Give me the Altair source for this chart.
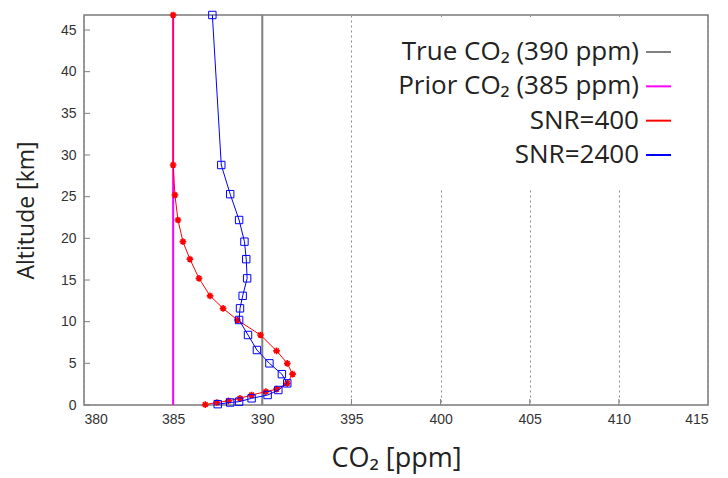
import altair as alt
import pandas as pd

# ---------------- data ----------------
x_ticks = [380, 385, 390, 395, 400, 405, 410, 415]
y_ticks = [0, 5, 10, 15, 20, 25, 30, 35, 40, 45]
x_domain = [380, 415]
y_domain = [0, 46.8]

true_co2 = 390
prior_co2 = 385

snr400_alt = [46.8, 28.8, 25.2, 22.2, 19.6, 17.5, 15.2, 13.1, 11.6, 10.2, 8.4, 6.5,
              5.0, 3.7, 2.6, 1.9, 1.6, 1.2, 0.8, 0.5, 0.3, 0.05]
snr400_co2 = [385.0, 385.0, 385.1, 385.27, 385.55, 385.94, 386.45, 387.07, 387.8, 388.6,
              389.9, 390.8, 391.4, 391.7, 391.4, 390.8, 390.2, 389.4, 388.75, 388.1, 387.45, 386.8]

snr2400_alt = [46.8, 28.8, 25.3, 22.2, 19.6, 17.5, 15.2, 13.1, 11.6, 10.2, 8.4, 6.6,
               5.0, 3.7, 2.6, 1.8, 1.2, 0.8, 0.4, 0.3, 0.1]
snr2400_co2 = [387.2, 387.7, 388.2, 388.7, 389.0, 389.1, 389.15, 388.9, 388.75, 388.7,
               389.2, 389.7, 390.4, 391.1, 391.4, 390.9, 390.3, 389.4, 388.7, 388.2, 387.5]

legend_labels = ["True CO₂ (390 ppm)", "Prior CO₂ (385 ppm)", "SNR=400", "SNR=2400"]
legend_colors = ["#808080", "#ff00ff", "#ff0000", "#0000ff"]

# ---------------- frames ----------------
red_df = pd.DataFrame({"co2": snr400_co2, "alt": snr400_alt, "idx": range(len(snr400_alt))})
blue_df = pd.DataFrame({"co2": snr2400_co2, "alt": snr2400_alt, "idx": range(len(snr2400_alt))})
ref_df = pd.DataFrame({"co2": [prior_co2, true_co2], "color": ["#ff00ff", "#808080"]})
leg_df = pd.DataFrame({"row": list(range(len(legend_labels))), "label": legend_labels,
                       "color": legend_colors})
ytick_df = pd.DataFrame({"v": y_ticks})
xtick_df = pd.DataFrame({"v": x_ticks[1:-1]})

W, H = 624, 390
TITLE_FONT = "Open Sans"
LABEL_FONT = "Liberation Sans"

xscale = alt.Scale(domain=x_domain, nice=False, zero=False)
yscale = alt.Scale(domain=y_domain, nice=False, zero=False)

x_axis = alt.Axis(values=x_ticks, grid=True, gridDash=[2, 3], gridColor="#8c8c8c", gridWidth=1,
                  ticks=False, domain=False, labelFont=LABEL_FONT, labelFontSize=14,
                  labelColor="#333333", labelPadding=7, title="CO₂ [ppm]",
                  titleFont=TITLE_FONT, titleFontSize=27, titleFontWeight="normal",
                  titleColor="#222222", titlePadding=19)
y_axis = alt.Axis(values=y_ticks, grid=False, ticks=False, domain=False,
                  labelFont=LABEL_FONT, labelFontSize=14, labelColor="#333333",
                  labelPadding=8, title="Altitude [km]", titleFont=TITLE_FONT,
                  titleFontSize=23, titleFontWeight="normal", titleColor="#222222",
                  titlePadding=22)

X = alt.X("co2:Q", scale=xscale, axis=x_axis)
Y = alt.Y("alt:Q", scale=yscale, axis=y_axis)

one = pd.DataFrame({"a": [0]})

legend_box = alt.Chart(one).mark_rect(color="white").encode(
    x=alt.value(306), x2=alt.value(622), y=alt.value(2), y2=alt.value(174))

yticks = alt.Chart(ytick_df).mark_rule(color="#808080", strokeWidth=1).encode(
    y=alt.Y("v:Q", scale=yscale, axis=y_axis), x=alt.value(0), x2=alt.value(6))
xticks = alt.Chart(xtick_df).mark_rule(color="#808080", strokeWidth=1).encode(
    x=alt.X("v:Q", scale=xscale, axis=x_axis), y=alt.value(H), y2=alt.value(H - 6))

refs = alt.Chart(ref_df).mark_rule(strokeWidth=2).encode(
    x=alt.X("co2:Q", scale=xscale, axis=x_axis), color=alt.Color("color:N", scale=None))

asterisk = "M-1,0L1,0M0,-1L0,1M-0.7,-0.7L0.7,0.7M-0.7,0.7L0.7,-0.7"

red_line = alt.Chart(red_df).mark_line(color="#ff0000", strokeWidth=1).encode(
    x=X, y=Y, order="idx:Q")
red_pts = alt.Chart(red_df).mark_point(shape=asterisk, color="#ff0000", size=45,
                                       strokeWidth=1.6, filled=False, opacity=1).encode(x=X, y=Y)
blue_line = alt.Chart(blue_df).mark_line(color="#0000ff", strokeWidth=1).encode(
    x=X, y=Y, order="idx:Q")
blue_pts = alt.Chart(blue_df).mark_point(shape="square", color="#0000ff", size=55,
                                         strokeWidth=1, filled=False, opacity=1).encode(x=X, y=Y)

data_layer = alt.layer(legend_box, yticks, xticks, refs, red_line, red_pts, blue_line, blue_pts)

leg_y = alt.Y("row:Q", scale=alt.Scale(domain=[0, 3], range=[37, 140]), axis=None)
leg_text = alt.Chart(leg_df).mark_text(align="right", baseline="middle", font=TITLE_FONT,
                                       fontSize=26, color="#222222").encode(
    x=alt.value(555), y=leg_y, text="label:N")
leg_lines = alt.Chart(leg_df).mark_rule(strokeWidth=2).encode(
    x=alt.value(562), x2=alt.value(587), y=leg_y, color=alt.Color("color:N", scale=None))
legend_layer = alt.layer(leg_text, leg_lines)

chart = alt.layer(data_layer, legend_layer).resolve_scale(y="independent").properties(
    width=W, height=H,
    autosize=alt.AutoSizeParams(type="none"),
    padding={"left": 84, "top": 15, "right": 20, "bottom": 73},
    background="white",
).configure_view(stroke="#7a7a7a", strokeWidth=1.5)

chart.save("out.html", embed_options={"renderer": "svg", "actions": False})
